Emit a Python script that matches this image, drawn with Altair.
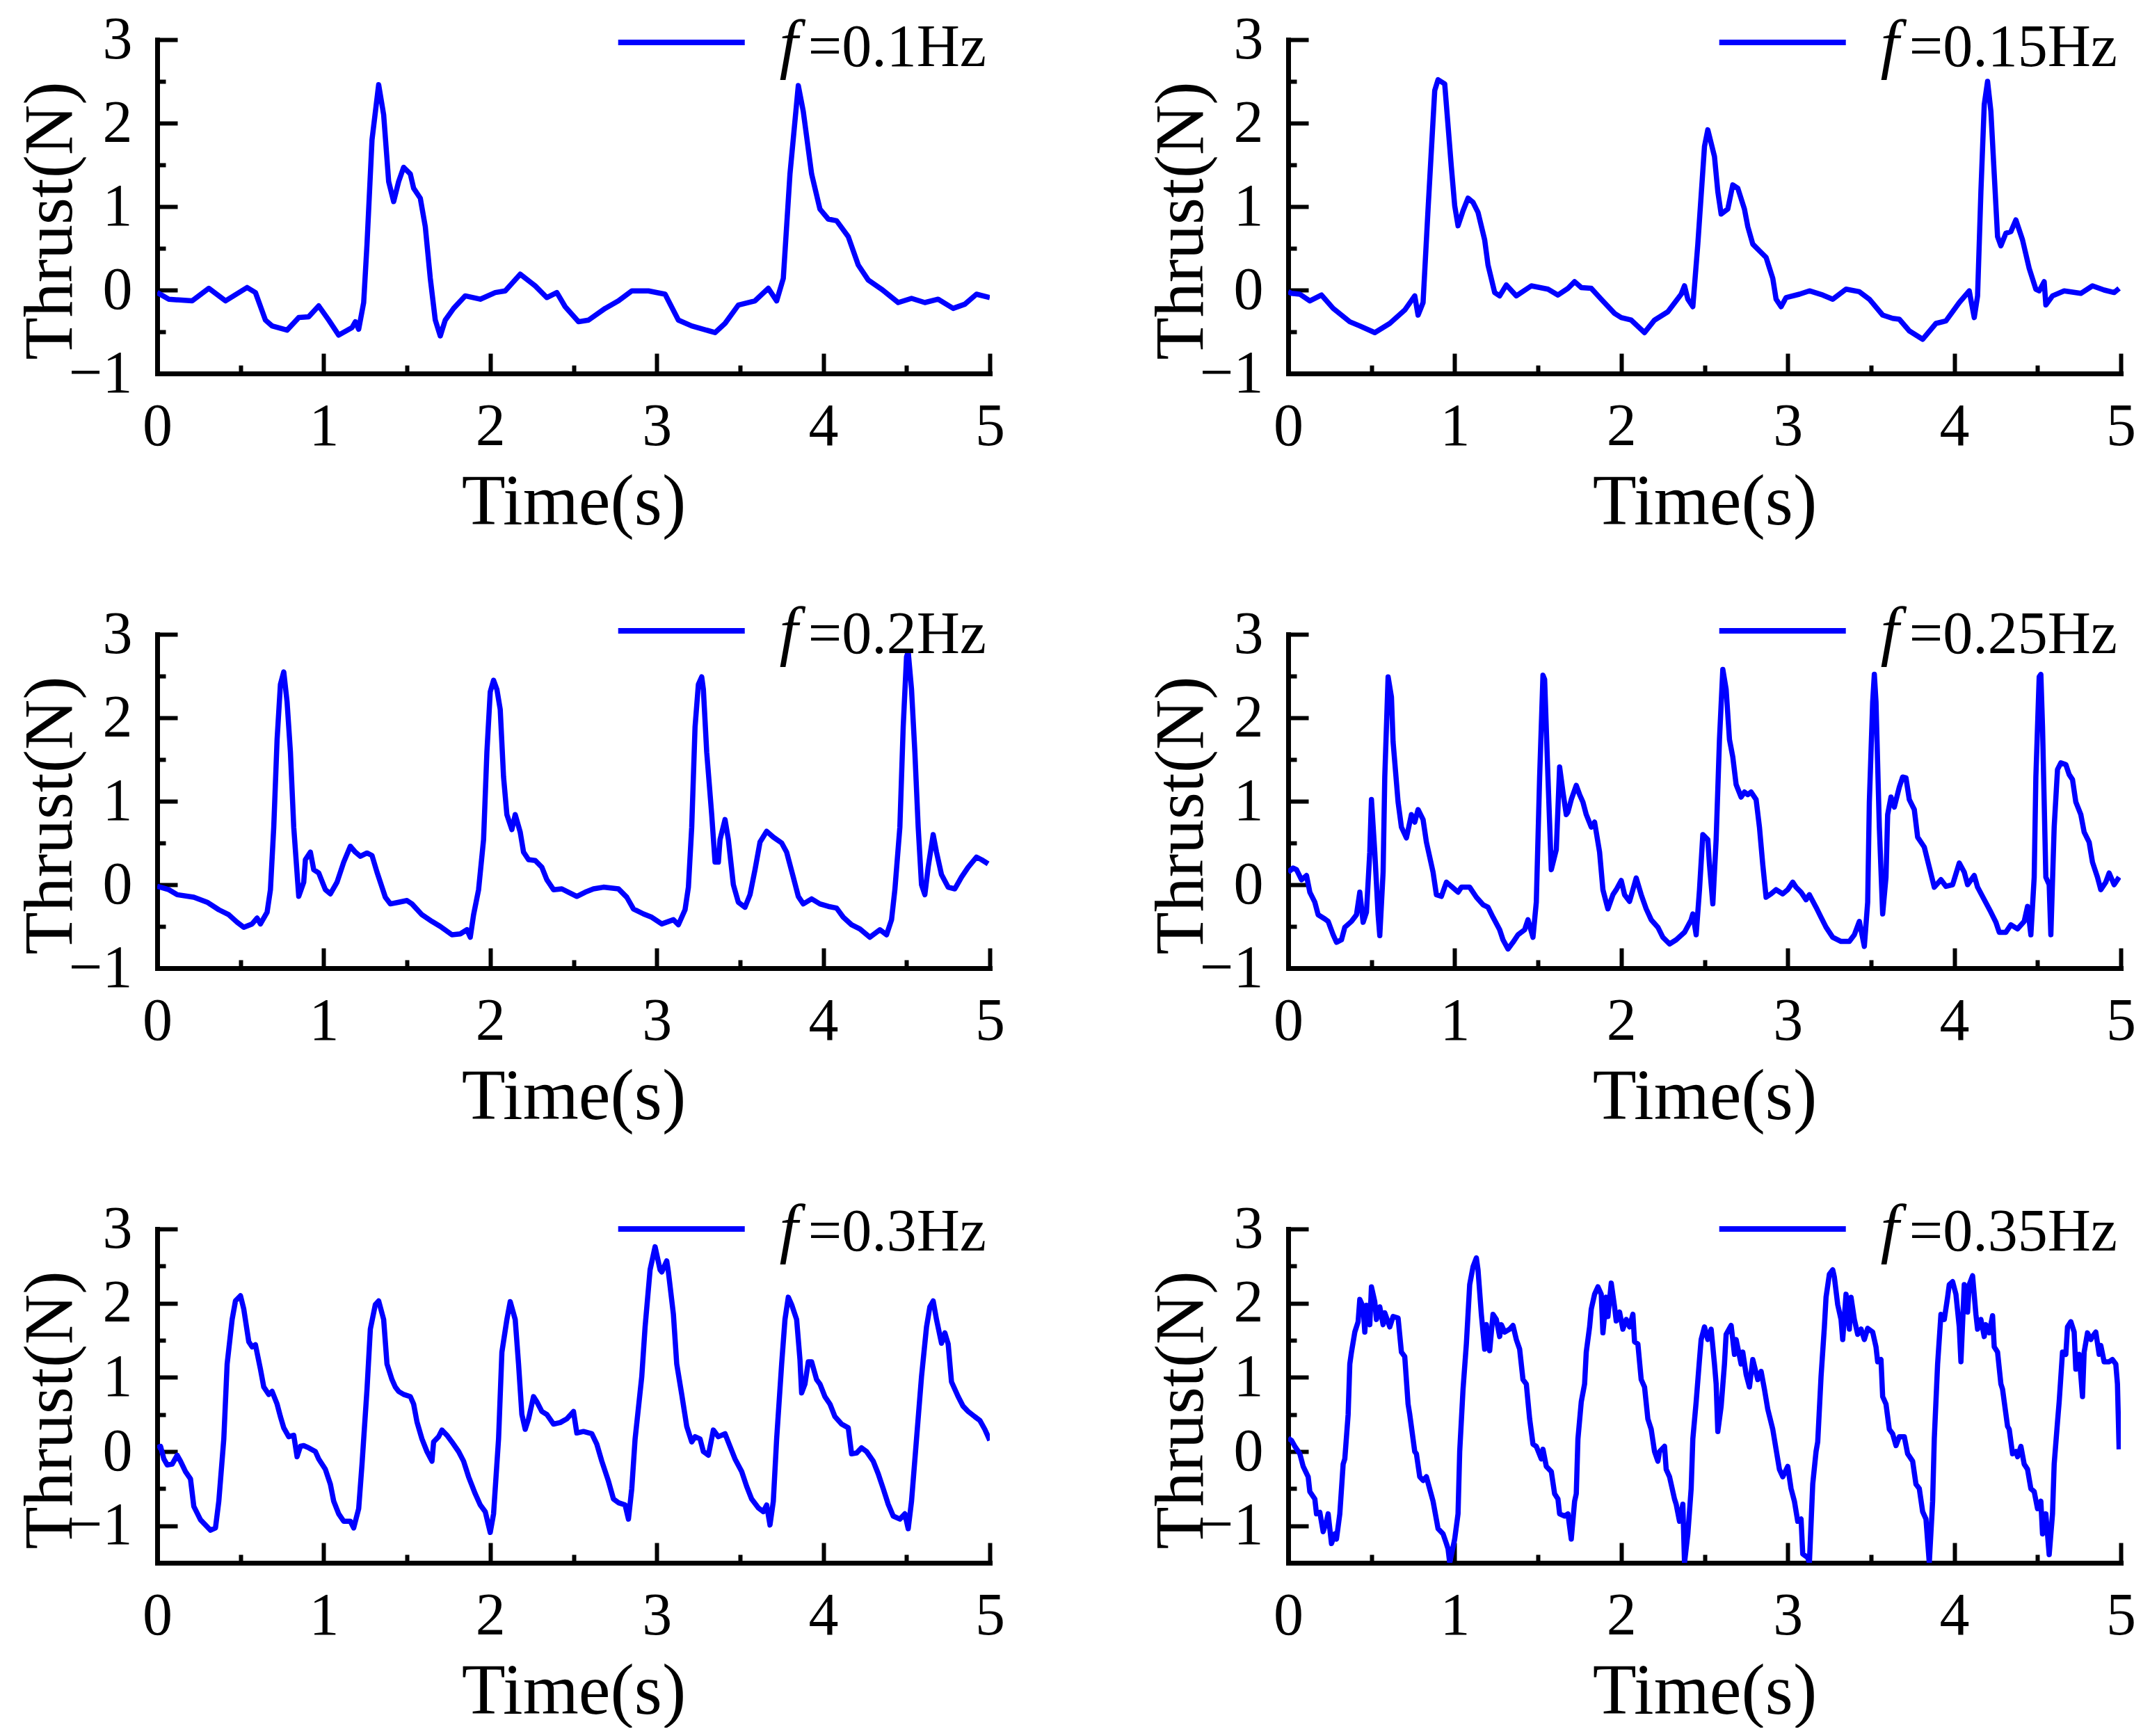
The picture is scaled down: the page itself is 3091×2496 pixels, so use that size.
import altair as alt
import pandas as pd

FONT = "Liberation Serif"
BLUE = "#0000ff"

# ---- data: [time (s), thrust (N)] ----
thrust_010 = [[0.00,-0.03],[0.07,-0.11],[0.21,-0.13],[0.31,0.02],[0.41,-0.13],[0.54,0.03],[0.59,-0.03],[0.65,-0.36],[0.69,-0.43],[0.78,-0.48],
              [0.85,-0.33],[0.91,-0.32],[0.97,-0.19],[1.03,-0.36],[1.09,-0.54],[1.17,-0.45],[1.19,-0.38],[1.21,-0.47],[1.24,-0.15],[1.26,0.55],
              [1.29,1.80],[1.33,2.46],[1.36,2.10],[1.39,1.30],[1.42,1.06],[1.45,1.30],[1.48,1.47],[1.52,1.39],[1.54,1.22],[1.58,1.10],
              [1.61,0.76],[1.64,0.14],[1.67,-0.36],[1.70,-0.55],[1.73,-0.36],[1.78,-0.22],[1.85,-0.07],[1.94,-0.11],[2.03,-0.03],[2.09,-0.01],
              [2.18,0.19],[2.27,0.05],[2.34,-0.09],[2.40,-0.03],[2.45,-0.20],[2.53,-0.38],[2.59,-0.36],[2.69,-0.22],[2.77,-0.13],[2.85,-0.01],
              [2.95,-0.01],[3.05,-0.05],[3.13,-0.36],[3.21,-0.43],[3.35,-0.51],[3.41,-0.40],[3.49,-0.18],[3.59,-0.13],[3.67,0.02],[3.72,-0.13],
              [3.76,0.14],[3.80,1.39],[3.85,2.45],[3.88,2.14],[3.93,1.39],[3.98,0.97],[4.03,0.85],[4.08,0.83],[4.15,0.64],[4.21,0.30],
              [4.27,0.12],[4.35,0.01],[4.45,-0.15],[4.53,-0.10],[4.61,-0.15],[4.69,-0.11],[4.78,-0.22],[4.85,-0.17],[4.92,-0.05],[5.00,-0.09]]

thrust_015 = [[0.00,-0.02],[0.02,-0.04],[0.07,-0.05],[0.13,-0.13],[0.20,-0.06],[0.27,-0.22],[0.37,-0.38],[0.43,-0.43],[0.52,-0.51],[0.61,-0.40],
              [0.70,-0.24],[0.76,-0.07],[0.78,-0.30],[0.81,-0.15],[0.84,0.97],[0.88,2.39],[0.90,2.52],[0.94,2.47],[0.98,1.47],[1.00,1.01],
              [1.02,0.77],[1.05,0.95],[1.08,1.10],[1.11,1.05],[1.14,0.93],[1.18,0.60],[1.20,0.30],[1.24,-0.03],[1.27,-0.07],[1.31,0.06],
              [1.37,-0.07],[1.46,0.05],[1.56,0.01],[1.62,-0.06],[1.68,0.02],[1.72,0.10],[1.76,0.03],[1.82,0.02],[1.88,-0.11],[1.96,-0.28],
              [2.00,-0.33],[2.06,-0.36],[2.14,-0.51],[2.20,-0.36],[2.28,-0.26],[2.36,-0.05],[2.38,0.05],[2.40,-0.11],[2.43,-0.20],[2.46,0.55],
              [2.50,1.72],[2.52,1.92],[2.56,1.60],[2.58,1.18],[2.60,0.91],[2.64,0.97],[2.67,1.26],[2.70,1.22],[2.74,0.97],[2.76,0.76],
              [2.79,0.55],[2.83,0.47],[2.87,0.39],[2.91,0.14],[2.93,-0.11],[2.96,-0.20],[2.99,-0.09],[3.07,-0.05],[3.13,-0.01],[3.21,-0.06],
              [3.27,-0.11],[3.35,0.01],[3.43,-0.02],[3.49,-0.11],[3.57,-0.30],[3.63,-0.34],[3.67,-0.35],[3.73,-0.49],[3.81,-0.59],[3.89,-0.40],
              [3.95,-0.37],[4.03,-0.15],[4.09,-0.01],[4.12,-0.33],[4.14,-0.07],[4.16,1.18],[4.18,2.22],[4.20,2.50],[4.22,2.14],[4.24,1.39],
              [4.26,0.64],[4.28,0.53],[4.31,0.68],[4.34,0.70],[4.37,0.84],[4.41,0.60],[4.45,0.26],[4.49,0.01],[4.51,-0.01],[4.54,0.10],
              [4.55,-0.18],[4.59,-0.07],[4.66,-0.01],[4.76,-0.04],[4.83,0.05],[4.90,0.00],[4.96,-0.03],[4.99,0.02]]

thrust_020 = [[0.00,-0.02],[0.02,-0.03],[0.07,-0.06],[0.12,-0.12],[0.22,-0.15],[0.30,-0.21],[0.37,-0.30],[0.43,-0.36],[0.48,-0.45],[0.52,-0.51],
              [0.57,-0.47],[0.60,-0.40],[0.62,-0.47],[0.66,-0.33],[0.68,-0.06],[0.70,0.69],[0.72,1.74],[0.74,2.40],[0.76,2.55],[0.78,2.19],
              [0.80,1.59],[0.82,0.69],[0.85,-0.14],[0.88,0.03],[0.89,0.30],[0.92,0.39],[0.94,0.18],[0.97,0.14],[1.01,-0.06],[1.04,-0.11],
              [1.08,0.03],[1.12,0.27],[1.16,0.46],[1.19,0.39],[1.22,0.34],[1.26,0.38],[1.29,0.35],[1.32,0.15],[1.37,-0.15],[1.40,-0.23],
              [1.45,-0.21],[1.50,-0.19],[1.53,-0.23],[1.59,-0.36],[1.65,-0.44],[1.70,-0.50],[1.77,-0.60],[1.82,-0.59],[1.86,-0.54],[1.88,-0.63],
              [1.90,-0.36],[1.93,-0.06],[1.96,0.54],[1.98,1.59],[2.00,2.31],[2.02,2.45],[2.04,2.34],[2.06,2.10],[2.08,1.29],[2.10,0.84],
              [2.13,0.66],[2.15,0.84],[2.18,0.63],[2.20,0.39],[2.23,0.30],[2.27,0.29],[2.31,0.21],[2.34,0.06],[2.38,-0.06],[2.43,-0.05],
              [2.47,-0.09],[2.52,-0.14],[2.57,-0.09],[2.62,-0.05],[2.68,-0.03],[2.77,-0.05],[2.82,-0.15],[2.86,-0.29],[2.92,-0.35],[2.97,-0.39],
              [3.03,-0.47],[3.10,-0.42],[3.13,-0.48],[3.17,-0.30],[3.19,-0.03],[3.21,0.69],[3.23,1.89],[3.25,2.40],[3.27,2.49],[3.28,2.34],
              [3.30,1.59],[3.33,0.84],[3.35,0.27],[3.37,0.27],[3.38,0.54],[3.41,0.78],[3.43,0.54],[3.46,0.00],[3.49,-0.21],[3.53,-0.27],
              [3.56,-0.12],[3.59,0.18],[3.62,0.51],[3.66,0.64],[3.70,0.57],[3.75,0.50],[3.78,0.39],[3.82,0.09],[3.85,-0.14],[3.88,-0.23],
              [3.93,-0.17],[3.98,-0.23],[4.03,-0.26],[4.08,-0.28],[4.12,-0.39],[4.17,-0.48],[4.22,-0.53],[4.28,-0.63],[4.34,-0.54],[4.38,-0.60],
              [4.41,-0.42],[4.43,-0.06],[4.46,0.69],[4.48,1.89],[4.50,2.73],[4.51,2.79],[4.53,2.34],[4.55,1.59],[4.57,0.69],[4.59,0.00],
              [4.61,-0.12],[4.63,0.21],[4.66,0.60],[4.68,0.39],[4.71,0.12],[4.75,-0.03],[4.79,-0.05],[4.83,0.09],[4.87,0.21],[4.92,0.33],
              [4.95,0.30],[4.99,0.25]]

thrust_025 = [[0.00,0.15],[0.03,0.20],[0.05,0.18],[0.08,0.06],[0.11,0.11],[0.13,-0.09],[0.16,-0.21],[0.18,-0.36],[0.22,-0.41],[0.24,-0.44],
              [0.27,-0.60],[0.29,-0.69],[0.32,-0.66],[0.34,-0.51],[0.38,-0.44],[0.41,-0.36],[0.43,-0.09],[0.45,-0.45],[0.47,-0.33],[0.49,0.39],
              [0.50,1.02],[0.52,0.39],[0.54,-0.36],[0.55,-0.61],[0.57,0.15],[0.58,1.29],[0.60,2.49],[0.62,2.25],[0.63,1.71],[0.66,0.99],
              [0.68,0.69],[0.71,0.56],[0.74,0.84],[0.76,0.75],[0.78,0.90],[0.81,0.78],[0.83,0.51],[0.87,0.15],[0.89,-0.12],[0.92,-0.14],
              [0.95,0.03],[0.98,-0.02],[1.02,-0.09],[1.04,-0.03],[1.09,-0.03],[1.13,-0.15],[1.17,-0.24],[1.20,-0.27],[1.23,-0.39],[1.27,-0.54],
              [1.29,-0.66],[1.32,-0.77],[1.35,-0.69],[1.38,-0.60],[1.42,-0.54],[1.44,-0.42],[1.47,-0.63],[1.49,-0.21],[1.51,1.29],[1.53,2.51],
              [1.54,2.46],[1.56,1.29],[1.58,0.18],[1.61,0.42],[1.63,1.41],[1.65,1.11],[1.67,0.84],[1.68,0.87],[1.70,1.02],[1.73,1.19],
              [1.75,1.08],[1.77,0.99],[1.79,0.84],[1.82,0.69],[1.84,0.75],[1.87,0.39],[1.89,-0.06],[1.92,-0.29],[1.95,-0.12],[1.97,-0.06],
              [2.00,0.05],[2.02,-0.12],[2.05,-0.20],[2.07,-0.06],[2.09,0.08],[2.12,-0.12],[2.15,-0.29],[2.18,-0.42],[2.22,-0.51],[2.25,-0.63],
              [2.29,-0.71],[2.33,-0.66],[2.38,-0.57],[2.42,-0.42],[2.43,-0.35],[2.45,-0.60],[2.47,-0.06],[2.49,0.60],[2.52,0.54],[2.53,0.24],
              [2.55,-0.23],[2.57,0.54],[2.59,1.74],[2.61,2.58],[2.63,2.34],[2.65,1.74],[2.67,1.53],[2.69,1.20],[2.72,1.05],[2.74,1.11],
              [2.76,1.08],[2.78,1.11],[2.81,1.02],[2.83,0.69],[2.85,0.24],[2.87,-0.15],[2.90,-0.11],[2.93,-0.06],[2.97,-0.11],[3.00,-0.06],
              [3.03,0.03],[3.05,-0.03],[3.08,-0.09],[3.11,-0.18],[3.13,-0.12],[3.17,-0.27],[3.20,-0.39],[3.23,-0.51],[3.27,-0.63],[3.32,-0.68],
              [3.37,-0.68],[3.40,-0.60],[3.43,-0.44],[3.46,-0.74],[3.48,-0.21],[3.49,0.99],[3.51,2.19],[3.52,2.52],[3.53,2.19],[3.55,0.69],
              [3.57,-0.35],[3.59,0.09],[3.60,0.84],[3.62,1.05],[3.64,0.93],[3.67,1.17],[3.69,1.29],[3.71,1.28],[3.73,1.02],[3.76,0.90],
              [3.78,0.57],[3.82,0.45],[3.85,0.21],[3.88,-0.03],[3.92,0.06],[3.95,-0.02],[3.99,0.00],[4.03,0.26],[4.06,0.15],[4.08,0.00],
              [4.12,0.11],[4.14,-0.03],[4.18,-0.18],[4.22,-0.33],[4.25,-0.45],[4.27,-0.57],[4.31,-0.57],[4.34,-0.48],[4.38,-0.53],[4.42,-0.44],
              [4.44,-0.26],[4.46,-0.60],[4.48,0.09],[4.49,1.29],[4.51,2.49],[4.52,2.52],[4.53,1.89],[4.55,0.09],[4.57,0.00],[4.58,-0.60],
              [4.60,0.69],[4.62,1.38],[4.64,1.46],[4.67,1.44],[4.69,1.32],[4.71,1.26],[4.73,0.99],[4.76,0.84],[4.78,0.63],[4.81,0.51],
              [4.83,0.27],[4.86,0.09],[4.88,-0.06],[4.91,0.03],[4.93,0.14],[4.96,0.00],[4.99,0.09]]

thrust_030 = [[0.00,0.05],[0.02,0.07],[0.04,-0.10],[0.06,-0.18],[0.09,-0.17],[0.12,-0.05],[0.14,-0.13],[0.17,-0.27],[0.20,-0.37],[0.22,-0.74],
              [0.26,-0.92],[0.29,-0.99],[0.32,-1.06],[0.35,-1.03],[0.37,-0.67],[0.40,0.17],[0.42,1.18],[0.45,1.78],[0.47,2.03],[0.50,2.10],
              [0.52,1.92],[0.55,1.48],[0.57,1.41],[0.59,1.44],[0.62,1.11],[0.64,0.87],[0.67,0.77],[0.69,0.81],[0.72,0.64],[0.74,0.47],
              [0.76,0.32],[0.79,0.20],[0.82,0.22],[0.84,-0.07],[0.86,0.07],[0.88,0.08],[0.91,0.05],[0.95,0.00],[0.97,-0.10],[1.01,-0.24],
              [1.04,-0.44],[1.06,-0.67],[1.09,-0.84],[1.12,-0.94],[1.16,-0.94],[1.18,-1.03],[1.21,-0.77],[1.23,-0.17],[1.26,0.84],[1.28,1.65],
              [1.31,1.98],[1.33,2.03],[1.36,1.78],[1.38,1.18],[1.41,0.97],[1.43,0.87],[1.45,0.81],[1.48,0.77],[1.52,0.74],[1.54,0.64],
              [1.56,0.40],[1.59,0.17],[1.62,0.00],[1.65,-0.13],[1.66,0.13],[1.69,0.20],[1.71,0.29],[1.74,0.22],[1.77,0.13],[1.81,0.00],
              [1.84,-0.13],[1.87,-0.34],[1.91,-0.57],[1.94,-0.72],[1.97,-0.81],[2.00,-1.09],[2.02,-0.84],[2.05,0.17],[2.07,1.34],[2.10,1.78],
              [2.12,2.02],[2.15,1.78],[2.17,1.18],[2.19,0.50],[2.21,0.30],[2.23,0.44],[2.26,0.74],[2.28,0.67],[2.31,0.54],[2.34,0.50],
              [2.38,0.37],[2.42,0.39],[2.46,0.44],[2.50,0.54],[2.52,0.25],[2.56,0.27],[2.61,0.24],[2.64,0.10],[2.67,-0.13],[2.71,-0.40],
              [2.74,-0.64],[2.77,-0.69],[2.81,-0.72],[2.83,-0.91],[2.85,-0.50],[2.87,0.17],[2.91,1.01],[2.93,1.68],[2.96,2.45],[2.99,2.76],
              [3.02,2.45],[3.03,2.42],[3.06,2.57],[3.07,2.42],[3.10,1.85],[3.12,1.18],[3.15,0.77],[3.18,0.34],[3.21,0.13],[3.23,0.20],
              [3.26,0.17],[3.28,0.00],[3.31,-0.05],[3.34,0.29],[3.37,0.20],[3.41,0.24],[3.44,0.07],[3.47,-0.10],[3.51,-0.27],[3.54,-0.47],
              [3.57,-0.64],[3.61,-0.76],[3.64,-0.81],[3.66,-0.72],[3.68,-0.99],[3.70,-0.67],[3.72,0.17],[3.75,1.18],[3.77,1.78],[3.79,2.08],
              [3.81,1.98],[3.84,1.78],[3.86,1.24],[3.87,0.79],[3.89,0.91],[3.91,1.21],[3.93,1.21],[3.96,0.97],[3.98,0.91],[4.01,0.74],
              [4.04,0.64],[4.07,0.47],[4.11,0.37],[4.15,0.32],[4.17,-0.03],[4.20,-0.02],[4.23,0.05],[4.26,0.00],[4.30,-0.13],[4.33,-0.30],
              [4.36,-0.50],[4.39,-0.71],[4.42,-0.87],[4.46,-0.91],[4.49,-0.84],[4.51,-1.04],[4.53,-0.67],[4.56,0.17],[4.59,1.01],[4.62,1.68],
              [4.64,1.95],[4.66,2.03],[4.68,1.78],[4.71,1.46],[4.73,1.60],[4.75,1.45],[4.77,0.94],[4.81,0.74],[4.84,0.61],[4.87,0.54],
              [4.91,0.47],[4.94,0.42],[4.97,0.30],[5.00,0.15]]

thrust_035 = [[0.00,0.18],[0.02,0.15],[0.04,0.07],[0.07,-0.03],[0.09,-0.20],[0.12,-0.34],[0.13,-0.54],[0.16,-0.64],[0.17,-0.84],[0.19,-0.82],
              [0.21,-1.08],[0.23,-0.94],[0.24,-0.84],[0.26,-1.24],[0.28,-1.11],[0.29,-1.18],[0.31,-0.84],[0.33,-0.17],[0.34,-0.10],[0.36,0.50],
              [0.37,1.18],[0.38,1.34],[0.40,1.61],[0.42,1.75],[0.43,2.05],[0.45,1.95],[0.46,1.61],[0.47,1.97],[0.49,1.71],[0.50,2.22],
              [0.52,2.02],[0.53,1.78],[0.55,1.95],[0.57,1.71],[0.58,1.87],[0.61,1.68],[0.63,1.82],[0.66,1.80],[0.68,1.34],[0.70,1.28],
              [0.72,0.64],[0.73,0.50],[0.76,0.00],[0.77,-0.03],[0.79,-0.34],[0.81,-0.39],[0.83,-0.34],[0.87,-0.67],[0.90,-1.04],[0.93,-1.11],
              [0.95,-1.24],[0.96,-1.31],[0.97,-1.50],[1.00,-1.18],[1.02,-0.84],[1.03,0.00],[1.05,0.84],[1.07,1.45],[1.09,2.25],[1.11,2.49],
              [1.13,2.61],[1.14,2.45],[1.16,1.85],[1.18,1.38],[1.19,1.71],[1.21,1.36],[1.23,1.85],[1.25,1.78],[1.27,1.55],[1.28,1.71],
              [1.30,1.61],[1.33,1.65],[1.35,1.70],[1.37,1.51],[1.39,1.38],[1.41,0.97],[1.43,0.91],[1.45,0.44],[1.47,0.10],[1.49,0.07],
              [1.52,-0.10],[1.53,0.03],[1.55,-0.20],[1.58,-0.27],[1.60,-0.57],[1.62,-0.64],[1.63,-0.84],[1.66,-0.87],[1.68,-0.84],[1.70,-1.18],
              [1.72,-0.67],[1.73,-0.57],[1.74,0.17],[1.76,0.67],[1.78,0.91],[1.79,1.34],[1.81,1.68],[1.82,1.92],[1.84,2.12],[1.86,2.22],
              [1.88,2.12],[1.89,1.60],[1.91,2.08],[1.92,1.82],[1.94,2.27],[1.96,1.95],[1.97,1.76],[1.99,1.88],[2.01,1.65],[2.03,1.78],
              [2.05,1.68],[2.07,1.85],[2.08,1.48],[2.10,1.45],[2.12,0.97],[2.14,0.87],[2.16,0.44],[2.18,0.30],[2.20,0.00],[2.22,-0.13],
              [2.23,0.00],[2.26,0.07],[2.27,-0.24],[2.29,-0.34],[2.32,-0.64],[2.33,-0.71],[2.35,-0.94],[2.37,-0.71],[2.38,-1.50],[2.40,-1.11],
              [2.42,-0.50],[2.43,0.17],[2.45,0.67],[2.47,1.24],[2.48,1.51],[2.50,1.68],[2.52,1.51],[2.54,1.65],[2.56,1.18],[2.57,0.91],
              [2.58,0.27],[2.60,0.61],[2.62,1.18],[2.63,1.58],[2.66,1.70],[2.68,1.31],[2.69,1.51],[2.72,1.18],[2.73,1.34],[2.75,1.04],
              [2.77,0.87],[2.79,1.24],[2.82,0.97],[2.84,1.08],[2.86,0.84],[2.88,0.57],[2.91,0.30],[2.93,0.03],[2.95,-0.24],[2.97,-0.34],
              [3.00,-0.20],[3.02,-0.50],[3.04,-0.67],[3.06,-0.94],[3.08,-0.91],[3.09,-1.38],[3.12,-1.43],[3.13,-1.50],[3.15,-0.44],[3.17,0.00],
              [3.18,0.13],[3.20,1.01],[3.22,1.68],[3.23,2.08],[3.25,2.39],[3.27,2.45],[3.28,2.35],[3.30,1.98],[3.32,1.78],[3.33,1.51],
              [3.35,2.12],[3.37,1.65],[3.38,2.08],[3.40,1.78],[3.42,1.58],[3.44,1.65],[3.46,1.51],[3.48,1.66],[3.51,1.61],[3.53,1.41],
              [3.54,1.21],[3.56,1.24],[3.57,0.74],[3.59,0.64],[3.61,0.30],[3.63,0.24],[3.65,0.08],[3.67,0.20],[3.70,0.20],[3.72,-0.03],
              [3.75,-0.13],[3.77,-0.44],[3.79,-0.50],[3.81,-0.81],[3.83,-0.91],[3.85,-1.50],[3.87,-0.67],[3.88,0.17],[3.90,1.18],[3.92,1.85],
              [3.94,1.78],[3.96,2.08],[3.97,2.25],[3.99,2.29],[4.01,2.12],[4.03,1.68],[4.04,1.21],[4.06,2.25],[4.08,1.88],[4.09,2.25],
              [4.11,2.37],[4.13,1.85],[4.14,1.65],[4.16,1.78],[4.18,1.55],[4.19,1.71],[4.21,1.60],[4.23,1.83],[4.24,1.41],[4.26,1.34],
              [4.28,0.91],[4.29,0.84],[4.32,0.34],[4.33,0.30],[4.35,-0.03],[4.37,0.00],[4.38,-0.07],[4.40,0.07],[4.42,-0.17],[4.44,-0.24],
              [4.46,-0.50],[4.48,-0.54],[4.50,-0.77],[4.52,-0.67],[4.53,-1.11],[4.55,-0.84],[4.57,-1.39],[4.59,-0.84],[4.60,-0.17],[4.62,0.40],
              [4.63,0.67],[4.65,1.34],[4.67,1.31],[4.68,1.68],[4.70,1.75],[4.72,1.61],[4.73,1.11],[4.75,1.31],[4.77,0.74],[4.78,1.34],
              [4.80,1.60],[4.82,1.51],[4.83,1.55],[4.85,1.61],[4.87,1.31],[4.88,1.43],[4.90,1.21],[4.93,1.21],[4.95,1.24],[4.97,1.18],
              [4.98,0.91],[4.99,0.03]]

freq_labels = ["=0.1Hz", "=0.15Hz", "=0.2Hz", "=0.25Hz", "=0.3Hz", "=0.35Hz"]
y_mins = [-1, -1, -1, -1, -1.5, -1.5]
time_labels = [0, 1, 2, 3, 4, 5]
time_ticks = [0, 0.5, 1, 1.5, 2, 2.5, 3, 3.5, 4, 4.5, 5]
thrust_labels = [-1, 0, 1, 2, 3]

# ---- layout ----
W, H = 1197, 480
LEG_FS = 86
LEG_POS = [(4, 38), (4, 38), (-5, 27), (-5, 27), (0, 31), (0, 31)]  # (line y, text baseline)
CHAR_W = {"=": 0.564, ".": 0.25, "H": 0.722, "z": 0.444}


def text_w(s):
    return sum(CHAR_W.get(c, 0.5) for c in s) * LEG_FS


def panel(pairs, label, ymin, leg):
    df = pd.DataFrame(pairs, columns=["t", "thrust"])
    df["i"] = range(len(df))
    xs = alt.Scale(domain=[0, 5], nice=False, zero=False)
    ys = alt.Scale(domain=[ymin, 3], nice=False, zero=False)
    y_ticks = [v / 2 for v in range(int(ymin * 2), 7)]
    tick_size = {"condition": {"test": "datum.value % 1 === 0", "value": 29}, "value": 12}

    line = alt.Chart(df).mark_line(color=BLUE, strokeWidth=7.5, clip=True,
                                   strokeJoin="round").encode(
        x=alt.X("t:Q", scale=xs, axis=alt.Axis(
            orient="bottom", values=time_labels, ticks=False, tickSize=0,
            labelPadding=34, labelFlush=False, labelOverlap=False,
            domainWidth=7, domainColor="black", domainCap="square",
            title="Time(s)", titlePadding=16)),
        y=alt.Y("thrust:Q", scale=ys, axis=alt.Axis(
            orient="left", values=thrust_labels, ticks=False, tickSize=0,
            labelPadding=36, labelFlush=False, labelOverlap=False,
            domainWidth=7, domainColor="black", domainCap="square",
            title="Thrust(N)", titleFontSize=100, titleAngle=270,
            titleAlign="center", titleBaseline="alphabetic",
            titleX=-124, titleY=H / 2 + 20)),
        order="i:Q",
    )
    ticks = alt.Chart(df).mark_point(opacity=0).encode(
        x=alt.X("t:Q", scale=xs, axis=alt.Axis(
            orient="top", offset=-H, values=time_ticks, labels=False,
            domain=False, tickSize=tick_size, tickWidth=6, tickColor="black",
            title=None)),
        y=alt.Y("thrust:Q", scale=ys, axis=alt.Axis(
            orient="right", offset=-W, values=y_ticks, labels=False,
            domain=False, tickSize=tick_size, tickWidth=6, tickColor="black",
            title=None)),
    )
    leg_df = pd.DataFrame({"label": [label]})
    x_eq = W - 5 - text_w(label)
    ly, by = leg
    rule = alt.Chart(leg_df).mark_rule(color=BLUE, strokeWidth=8).encode(
        x=alt.value(x_eq - 91 - 182), x2=alt.value(x_eq - 91), y=alt.value(ly))
    f_txt = alt.Chart(leg_df).mark_text(
        font=FONT, fontSize=96, fontStyle="italic", align="center",
        baseline="alphabetic", color="black").encode(
        x=alt.value(x_eq - 28), y=alt.value(by), text=alt.value("f"))
    lab_txt = alt.Chart(leg_df).mark_text(
        font=FONT, fontSize=LEG_FS, align="left", baseline="alphabetic",
        color="black").encode(
        x=alt.value(x_eq), y=alt.value(by), text="label:N")
    return alt.layer(line, ticks, rule, f_txt, lab_txt).resolve_axis(
        x="independent", y="independent").properties(width=W, height=H)


series = [thrust_010, thrust_015, thrust_020, thrust_025, thrust_030, thrust_035]
panels = [panel(s, l, m, p) for s, l, m, p in zip(series, freq_labels, y_mins, LEG_POS)]

chart = alt.concat(*panels, columns=2, spacing={"row": 375, "column": 429},
                   bounds="flush").properties(
    padding={"left": 14, "top": 6, "right": 0, "bottom": 0}
).configure_view(strokeWidth=0).configure_axis(
    grid=False, labelFont=FONT, titleFont=FONT, labelFontSize=86,
    titleFontSize=103, labelColor="black", titleColor="black",
    titleFontWeight="normal")

chart.save("out.html", embed_options={"renderer": "svg", "actions": False})
